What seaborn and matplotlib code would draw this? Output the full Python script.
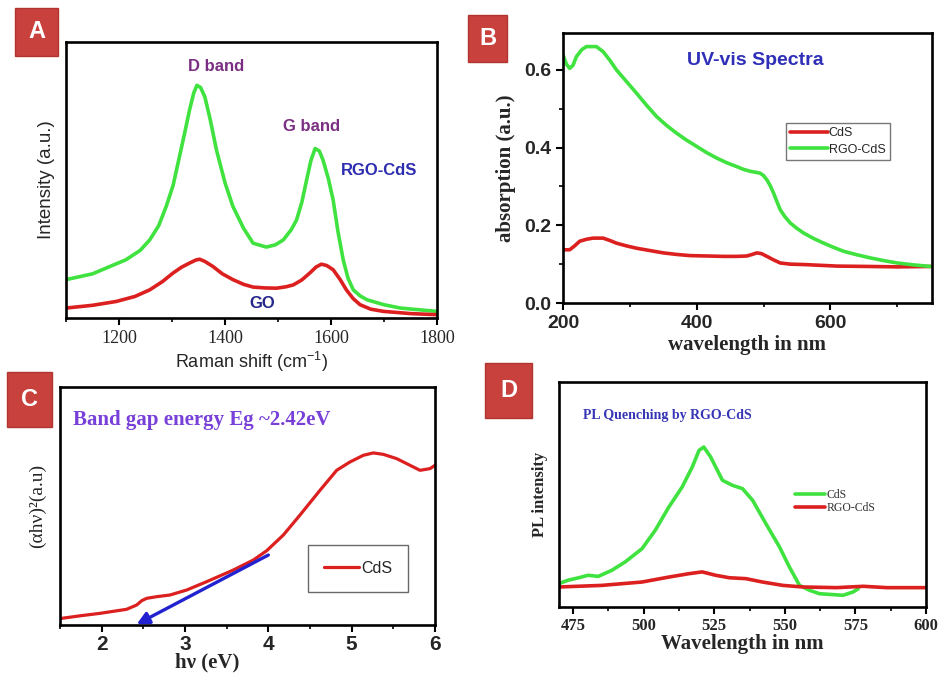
import numpy as np
import pandas as pd
import matplotlib
matplotlib.use("Agg")
import matplotlib.pyplot as plt
from matplotlib.patches import Rectangle
from matplotlib.ticker import MultipleLocator, NullLocator
import seaborn as sns

# ---------------- data ----------------
# (A) Raman spectra
raman_x_rgo = [1100, 1150, 1213, 1240, 1258, 1275, 1289, 1302, 1314, 1325, 1333, 1341, 1347, 1354,
               1362, 1372, 1384, 1400, 1415, 1435, 1453, 1478, 1495, 1510, 1525, 1535, 1545, 1554,
               1562, 1570, 1578, 1585, 1595, 1604, 1613, 1623, 1632, 1642, 1655, 1668, 1700, 1731,
               1765, 1800]
raman_y_rgo = [13.9, 16.0, 21.1, 24.5, 28.3, 33.5, 40.4, 48.0, 58.4, 68.0, 75.3, 81.5, 84.3, 83.5,
               80.1, 72.0, 60.8, 49.0, 40.4, 32.5, 27.1, 25.7, 26.5, 28.3, 32.0, 35.5, 42.0, 50.0,
               57.0, 61.4, 60.5, 57.2, 50.5, 42.8, 31.5, 21.1, 14.5, 10.2, 8.0, 6.6, 4.8, 3.6, 3.0, 2.4]
raman_x_go = [1100, 1150, 1195, 1230, 1258, 1282, 1302, 1318, 1333, 1345, 1352, 1362, 1377, 1395,
              1415, 1435, 1453, 1475, 1497, 1515, 1529, 1545, 1560, 1572, 1582, 1592, 1604, 1617,
              1629, 1642, 1655, 1675, 1699, 1750, 1800]
raman_y_go = [3.6, 4.6, 6.0, 7.8, 10.2, 13.2, 16.3, 18.4, 19.9, 21.0, 21.3, 20.5, 18.7, 16.0,
              13.9, 12.2, 11.2, 10.9, 10.8, 11.3, 12.0, 13.8, 16.3, 18.5, 19.5, 19.0, 17.5, 14.0,
              10.2, 7.0, 4.8, 3.2, 2.4, 1.6, 1.2]

# (B) UV-vis absorption
uv_x_rgo = [200, 205, 210, 215, 220, 228, 235, 250, 260, 270, 280, 295, 310, 325, 340, 355, 370,
            385, 400, 415, 430, 445, 460, 470, 480, 490, 495, 500, 505, 510, 515, 520, 525, 532,
            540, 550, 560, 575, 590, 605, 620, 640, 660, 680, 700, 725, 750]
uv_y_rgo = [0.639, 0.615, 0.604, 0.612, 0.634, 0.652, 0.660, 0.660, 0.647, 0.625, 0.600, 0.570,
            0.540, 0.509, 0.480, 0.457, 0.437, 0.419, 0.403, 0.387, 0.373, 0.361, 0.351, 0.344,
            0.339, 0.336, 0.334, 0.328, 0.317, 0.302, 0.283, 0.261, 0.240, 0.222, 0.206, 0.192,
            0.180, 0.166, 0.154, 0.143, 0.133, 0.124, 0.116, 0.109, 0.103, 0.098, 0.094]
uv_x_cds = [200, 210, 218, 225, 235, 245, 260, 270, 280, 295, 310, 330, 350, 370, 390, 415, 440,
            460, 475, 483, 490, 497, 505, 515, 525, 540, 560, 585, 610, 660, 700, 750]
uv_y_cds = [0.137, 0.137, 0.148, 0.159, 0.164, 0.167, 0.167, 0.161, 0.154, 0.147, 0.141, 0.135,
            0.129, 0.125, 0.122, 0.121, 0.120, 0.120, 0.121, 0.125, 0.129, 0.127, 0.120, 0.111,
            0.103, 0.100, 0.099, 0.097, 0.095, 0.094, 0.093, 0.094]

# (C) Tauc plot
tauc_x = [1.52, 1.75, 1.98, 2.15, 2.30, 2.42, 2.48, 2.54, 2.66, 2.82, 3.02, 3.26, 3.58, 3.82,
          3.98, 4.18, 4.38, 4.62, 4.82, 4.98, 5.14, 5.26, 5.38, 5.54, 5.70, 5.82, 5.94, 6.00]
tauc_y = [2.8, 3.9, 4.9, 5.8, 6.6, 8.4, 10.2, 11.2, 11.9, 12.6, 14.7, 18.2, 23.1, 27.3,
          31.2, 37.8, 46.2, 56.6, 65.0, 68.5, 71.3, 72.3, 71.7, 69.9, 67.1, 65.0, 65.7, 67.1]
tangent_tail = (4.0, 29.4)
band_gap = 2.42

# (D) photoluminescence
pl_x_cds = [470, 473.2, 477, 480.3, 483.9, 488.7, 493.4, 499.4, 504.1, 508.9, 513.6, 517.2, 519.6,
            521.3, 523.7, 527.9, 531.4, 535.0, 538.6, 543.3, 548.1, 551.6, 555.2, 558.8, 562.3,
            565.9, 570.6, 574.2, 576.0]
pl_y_cds = [10.4, 11.9, 13.0, 14.1, 13.6, 16.3, 20.0, 25.9, 34.1, 44.4, 53.3, 62.2, 69.6,
            71.1, 66.7, 56.3, 54.1, 52.6, 47.4, 37.0, 26.7, 17.8, 9.6, 7.4, 5.9,
            5.6, 5.2, 6.7, 8.1]
pl_x_rgo = [470, 485.1, 499.4, 508.9, 516.0, 520.7, 525.5, 530.3, 536.2, 542.1, 549.3, 556.4,
            568.3, 577.8, 586.1, 600]
pl_y_rgo = [8.9, 9.6, 11.1, 13.3, 14.8, 15.6, 14.1, 13.0, 12.6, 11.1, 9.6, 8.9,
            8.6, 9.2, 8.6, 8.6]

# ---------------- style ----------------
sns.set_theme(style="white")
plt.rcParams["font.family"] = ["Liberation Sans", "DejaVu Sans"]
plt.rcParams["mathtext.fontset"] = "custom"
plt.rcParams["mathtext.rm"] = "Liberation Sans"
plt.rcParams["mathtext.default"] = "regular"

GREEN = "#3fe23f"
RED = "#dc2020"
LW = 2.6
SERIF = ["Liberation Serif", "DejaVu Serif"]
SANS = ["Liberation Sans", "DejaVu Sans"]

fig = plt.figure(figsize=(9.44, 6.75), dpi=100)
W, H = 944, 675


def add_axes_px(x0, y0, x1, y1):
    return fig.add_axes([x0 / W, 1 - y1 / H, (x1 - x0) / W, (y1 - y0) / H])


def frame(ax):
    for s in ax.spines.values():
        s.set_visible(True)
        s.set_color("black")
        s.set_linewidth(1.9)
    ax.tick_params(which="major", direction="out", length=5, width=1.5, color="black")
    ax.tick_params(which="minor", direction="out", length=3, width=1.2, color="black")
    ax.set_facecolor("white")


def panel_label(letter, x0, y0, x1, y1):
    fig.patches.append(Rectangle((x0 / W, 1 - y1 / H), (x1 - x0) / W, (y1 - y0) / H,
                                 transform=fig.transFigure, facecolor="#c8413d",
                                 edgecolor="#b03530", linewidth=1, zorder=5))
    fig.text((x0 + x1) / 2 / W, 1 - (y0 + y1) / 2 / H, letter, color="white",
             fontsize=17, fontweight="bold", family=SANS, ha="center", va="center", zorder=6)


# ---------------- A: Raman ----------------
axA = add_axes_px(66, 42, 437, 318)
frame(axA)
dfA1 = pd.DataFrame({"x": raman_x_rgo, "y": raman_y_rgo})
dfA2 = pd.DataFrame({"x": raman_x_go, "y": raman_y_go})
sns.lineplot(data=dfA1, x="x", y="y", ax=axA, color=GREEN, linewidth=LW, sort=False)
sns.lineplot(data=dfA2, x="x", y="y", ax=axA, color=RED, linewidth=LW, sort=False)
axA.set_xlim(1100, 1800)
axA.set_ylim(0, 100)
axA.xaxis.set_major_locator(MultipleLocator(200))
axA.xaxis.set_minor_locator(MultipleLocator(100))
axA.yaxis.set_major_locator(NullLocator())
axA.tick_params(axis="x", which="both", bottom=True)
for lab in axA.get_xticklabels():
    lab.set_family(SERIF)
axA.tick_params(axis="x", labelsize=13, pad=4)
axA.set_xlabel("Raman shift (cm$^{-1}$)", fontsize=13, labelpad=2, family=SANS)
axA.set_ylabel("Intensity (a.u.)", fontsize=13.5, labelpad=8, family=SANS)
axA.text(1383, 91, "D band", color="#7a2f82", fontsize=12, fontweight="bold",
         ha="center", va="center", family=SANS)
axA.text(1564, 69.3, "G band", color="#7a2f82", fontsize=12, fontweight="bold",
         ha="center", va="center", family=SANS)
axA.text(1690, 53.4, "RGO-CdS", color="#2d2db0", fontsize=12, fontweight="bold",
         ha="center", va="center", family=SANS)
axA.text(1471, 5.4, "GO", color="#26268c", fontsize=12, fontweight="bold",
         ha="center", va="center", family=SANS)

# ---------------- B: UV-vis ----------------
axB = add_axes_px(563, 33, 932, 303)
frame(axB)
dfB = pd.concat([
    pd.DataFrame({"x": uv_x_cds, "y": uv_y_cds, "sample": "CdS"}),
    pd.DataFrame({"x": uv_x_rgo, "y": uv_y_rgo, "sample": "RGO-CdS"}),
])
sns.lineplot(data=dfB, x="x", y="y", hue="sample", palette={"CdS": RED, "RGO-CdS": GREEN},
             ax=axB, linewidth=LW, sort=False)
axB.set_xlim(200, 752)
axB.set_ylim(0, 0.695)
axB.xaxis.set_major_locator(MultipleLocator(200))
axB.xaxis.set_minor_locator(MultipleLocator(100))
axB.yaxis.set_major_locator(MultipleLocator(0.2))
axB.yaxis.set_minor_locator(MultipleLocator(0.1))
axB.tick_params(axis="both", which="both", bottom=True, left=True)
axB.tick_params(axis="both", labelsize=14)
for lab in axB.get_xticklabels() + axB.get_yticklabels():
    lab.set_fontweight("bold")
    lab.set_family(SANS)
axB.set_xlabel("wavelength in nm", fontsize=15, fontweight="bold", family=SERIF, labelpad=2)
axB.set_ylabel("absorption (a.u.)", fontsize=15, fontweight="bold", family=SERIF, labelpad=6)
axB.text(487, 0.625, "UV-vis Spectra", color="#2f2fb8", fontsize=14, fontweight="bold",
         ha="center", va="center", family=SANS)
legB = axB.legend(loc="upper right", bbox_to_anchor=(0.886, 0.667), frameon=True, fancybox=False,
                  fontsize=9, handlelength=3.0, handletextpad=0.1, borderpad=0.35,
                  labelspacing=0.35, borderaxespad=0, title=None)
legB.get_frame().set_edgecolor("#555555")
legB.get_frame().set_linewidth(1.0)
for t in legB.get_texts():
    t.set_family(SANS)

# ---------------- C: Tauc ----------------
axC = add_axes_px(60, 387, 435, 625)
frame(axC)
dfC = pd.DataFrame({"x": tauc_x, "y": tauc_y, "sample": "CdS"})
sns.lineplot(data=dfC, x="x", y="y", hue="sample", palette={"CdS": RED}, ax=axC,
             linewidth=2.3, sort=False)
axC.set_xlim(1.5, 6.0)
axC.set_ylim(0, 100)
axC.xaxis.set_major_locator(MultipleLocator(1))
axC.xaxis.set_minor_locator(MultipleLocator(0.5))
axC.yaxis.set_major_locator(NullLocator())
axC.tick_params(axis="x", which="both", bottom=True)
axC.tick_params(axis="x", labelsize=15, pad=2)
for lab in axC.get_xticklabels():
    lab.set_fontweight("bold")
    lab.set_family(SANS)
axC.set_xlabel("hν (eV)", fontsize=15, fontweight="bold", family=SERIF)
axC.xaxis.set_label_coords(0.392, -0.115)
axC.set_ylabel("(αhν)²(a.u)", fontsize=14, family=SERIF, labelpad=10)
axC.annotate("", xy=(band_gap, 0.3), xytext=tangent_tail,
             arrowprops=dict(arrowstyle="-|>", color="#2222d0", lw=2.4,
                             mutation_scale=18, shrinkA=0, shrinkB=0))
axC.text(0.035, 0.86, "Band gap energy Eg ~2.42eV", transform=axC.transAxes,
         color="#7840d8", fontsize=15, fontweight="bold", family=SERIF, ha="left", va="center")
legC = axC.legend(loc="lower right", bbox_to_anchor=(0.928, 0.139), frameon=True, fancybox=False,
                  fontsize=11.5, handlelength=2.2, handletextpad=0.1, borderpad=1.0,
                  borderaxespad=0)
legC.get_frame().set_edgecolor("#444444")
legC.get_frame().set_linewidth(1.0)
for t in legC.get_texts():
    t.set_family(SANS)

# ---------------- D: PL ----------------
axD = add_axes_px(559, 382, 926, 607)
frame(axD)
dfD = pd.concat([
    pd.DataFrame({"x": pl_x_cds, "y": pl_y_cds, "sample": "CdS"}),
    pd.DataFrame({"x": pl_x_rgo, "y": pl_y_rgo, "sample": "RGO-CdS"}),
])
sns.lineplot(data=dfD, x="x", y="y", hue="sample", palette={"CdS": GREEN, "RGO-CdS": RED},
             ax=axD, linewidth=LW, sort=False)
axD.set_xlim(470, 600)
axD.set_ylim(0, 100)
axD.xaxis.set_major_locator(MultipleLocator(25))
axD.xaxis.set_minor_locator(MultipleLocator(12.5))
axD.yaxis.set_major_locator(NullLocator())
axD.tick_params(axis="x", which="both", bottom=True)
axD.tick_params(axis="x", labelsize=12, pad=3)
for lab in axD.get_xticklabels():
    lab.set_fontweight("bold")
    lab.set_family(SERIF)
axD.set_xlabel("Wavelength in nm", fontsize=15, fontweight="bold", family=SERIF, labelpad=0)
axD.set_ylabel("PL intensity", fontsize=12, fontweight="bold", family=SERIF, labelpad=8)
axD.text(0.065, 0.853, "PL Quenching by RGO-CdS", transform=axD.transAxes, color="#3535b5",
         fontsize=10, fontweight="bold", family=SERIF, ha="left", va="center")
legD = axD.legend(loc="upper left", bbox_to_anchor=(0.62, 0.56), frameon=False,
                  fontsize=8.5, handlelength=2.6, handletextpad=0.1, labelspacing=0.1,
                  borderpad=0.2)
for t in legD.get_texts():
    t.set_family(SERIF)
    t.set_color("#333333")

# ---------------- panel tags ----------------
panel_label("A", 15, 8, 58, 56)
panel_label("B", 468, 15, 507, 62)
panel_label("C", 7, 372, 52, 427)
panel_label("D", 485, 363, 532, 418)

fig.savefig("out.png", dpi=100, facecolor="white")
